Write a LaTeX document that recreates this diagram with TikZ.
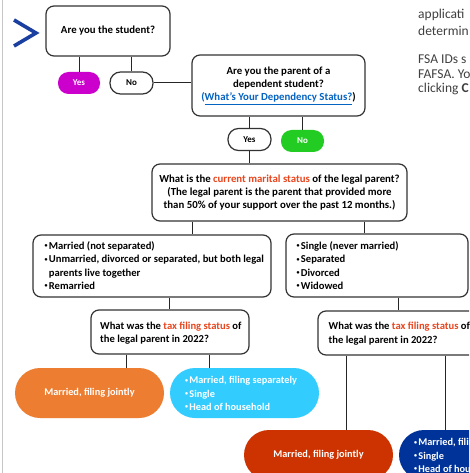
\documentclass[tikz,border=0pt]{standalone}
\usepackage{fontspec}
\setmainfont{Carlito}
\newfontfamily\sidefont{Carlito}
\usetikzlibrary{calc}
\definecolor{magY}{HTML}{CC00CC}
\definecolor{grnN}{HTML}{22CC22}
\definecolor{orgP}{HTML}{ED7D31}
\definecolor{lbluP}{HTML}{33CCFF}
\definecolor{dredP}{HTML}{CC3300}
\definecolor{dbluP}{HTML}{003399}
\definecolor{accent}{HTML}{E8461E}
\definecolor{linkB}{HTML}{0563C1}
\definecolor{chev}{HTML}{1B3FA0}
\definecolor{sidetxt}{HTML}{404040}
\newcommand\bl{\makebox[4.2pt][l]{\raisebox{1.6pt}{\fontsize{6}{6}\selectfont •}}}
\newcommand\bk{\hspace*{4.2pt}}
\newcommand\lnk[1]{{\color{linkB}\underline{#1}}}
\newcommand\acc[1]{{\color{accent}#1}}
\begin{document}
\begin{tikzpicture}[x=1pt,y=-1pt,
  box/.style={draw=black!80, line width=1.2pt, rounded corners=8pt, fill=white, inner sep=0pt, align=center,
    font=\bfseries\fontsize{10.8}{13.4}\selectfont},
  smallpill/.style={rounded corners=10.5pt, minimum width=43pt, minimum height=22pt, inner sep=0pt,
    font=\bfseries\fontsize{9}{10}\selectfont},
  bigpill/.style={rounded corners=25pt, minimum width=149pt, minimum height=50pt, inner sep=0pt,
    text=white, font=\bfseries\fontsize{10.3}{13.2}\selectfont},
  txt/.style={anchor=west, align=left, inner sep=0pt, font=\bfseries\fontsize{10.6}{13.4}\selectfont},
  ptxt/.style={anchor=west, align=left, inner sep=0pt, text=white, font=\bfseries\fontsize{10.3}{13.2}\selectfont},
  side/.style={anchor=west, inner sep=0pt, text=sidetxt, font=\sidefont\fontsize{13.5}{15}\selectfont},
  conn/.style={draw=black!85, line width=1pt}]
\useasboundingbox (0,0) rectangle (469,473);
\clip (0,0) rectangle (469,473);
\fill[white] (0,0) rectangle (469,473);
\draw[gray!45, line width=1.5pt] (2.5,0) -- (2.5,473);
% chevron
\draw[chev, line width=3.6pt, line join=miter] (14,20) -- (36,33) -- (14,46);
\node[box, minimum width=124pt, minimum height=50pt] (q1) at (108,31) {Are you the student?};
\node[smallpill, fill=magY, text=white, minimum width=42pt] (yes1) at (79,83) {Yes};
\node[smallpill, draw=black!80, line width=1.2pt, fill=white] (no1) at (131.5,83) {No};
\node[box, minimum width=173pt, minimum height=61pt] (q2) at (278.5,85.5)
  {Are you the parent of a\\dependent student?\\{\color{linkB}(}\lnk{What's Your Dependency Status?})};
\node[smallpill, draw=black!80, line width=1.2pt, fill=white] (yes2) at (249.5,139.5) {Yes};
\node[smallpill, fill=grnN, text=white] (no2) at (302.5,141) {No};
\node[box, minimum width=255pt, minimum height=57pt] (q3) at (279.5,192.5)
  {What is the \acc{current marital status} of the legal parent?\\(The legal parent is the parent that provided more\\than 50\% of your support over the past 12 months.)};
\node[box, minimum width=238pt, minimum height=62pt] (b4) at (152,266) {};
\node[txt] (b4t) at (44.5,265.5) {\bl Married (not separated)\\\bl Unmarried, divorced or separated, but both legal\\\bk parents live together\\\bl Remarried};
\node[box, minimum width=182pt, minimum height=63pt] (b6) at (377,265.5) {};
\node[txt] (b6t) at (296.5,265.5) {\bl Single (never married)\\\bl Separated\\\bl Divorced\\\bl Widowed};
\node[box, minimum width=158pt, minimum height=44pt] (q5) at (170,332) {};
\node[txt] (q5t) at (100,333) {What was the \acc{tax filing status} of\\the legal parent in 2022?};
\node[box, minimum width=172pt, minimum height=44pt] (q7) at (404,333) {};
\node[txt] (q7t) at (328.5,333.5) {What was the \acc{tax filing status} of\\the legal parent in 2022?};
\node[bigpill, fill=orgP] (p1) at (89.5,393) {Married, filing jointly};
\node[bigpill, fill=lbluP] (p2) at (244.5,393) {};
\node[ptxt] (p2t) at (185,393.5) {\bl Married, filing separately\\\bl Single\\\bl Head of household};
\node[bigpill, fill=dredP] (p3) at (318.5,455) {Married, filing jointly};
\node[bigpill, fill=dbluP] (p4) at (473.5,455) {};
\node[ptxt] (p4t) at (414,455.5) {\bl Married, filing separately\\\bl Single\\\bl Head of household};
% connectors
\draw[conn] (yes1.north) -- (yes1.north |- q1.south);
\draw[conn] (no1.north) -- (no1.north |- q1.south);
\draw[conn] (no1.east) -- (no1.east -| q2.west);
\draw[conn] (yes2.north) -- (yes2.north |- q2.south);
\draw[conn] (no2.north) -- (no2.north |- q2.south);
\draw[conn] (yes2.south) -- (yes2.south |- q3.north);
\coordinate (c3a) at (192,0);
\coordinate (c3b) at (364,0);
\draw[conn] (c3a |- q3.south) -- (c3a |- b4.north);
\draw[conn] (c3b |- q3.south) -- (c3b |- b6.north);
\coordinate (c4) at (169,0);
\draw[conn] (c4 |- b4.south) -- (c4 |- q5.north);
\coordinate (c6) at (398,0);
\draw[conn] (c6 |- b6.south) -- (c6 |- q7.north);
\coordinate (c5a) at (126,0);
\coordinate (c5b) at (209,0);
\draw[conn] (c5a |- q5.south) -- (c5a |- p1.north);
\draw[conn] (c5b |- q5.south) -- (c5b |- p2.north);
\coordinate (c7a) at (346,0);
\coordinate (c7b) at (445,0);
\draw[conn] (c7a |- q7.south) -- (c7a |- p3.north);
\draw[conn] (c7b |- q7.south) -- (c7b |- p4.north);
% side text
\node[side] (s1) at (418,15) {applicati};
\node[side] (s2) at (418,30.5) {determin};
\node[side] (s3) at (418,59) {FSA IDs s};
\node[side] (s4) at (418,74) {FAFSA. Yo};
\node[side] (s5) at (418,89) {clicking \textbf{C}};
\end{tikzpicture}
\end{document}
